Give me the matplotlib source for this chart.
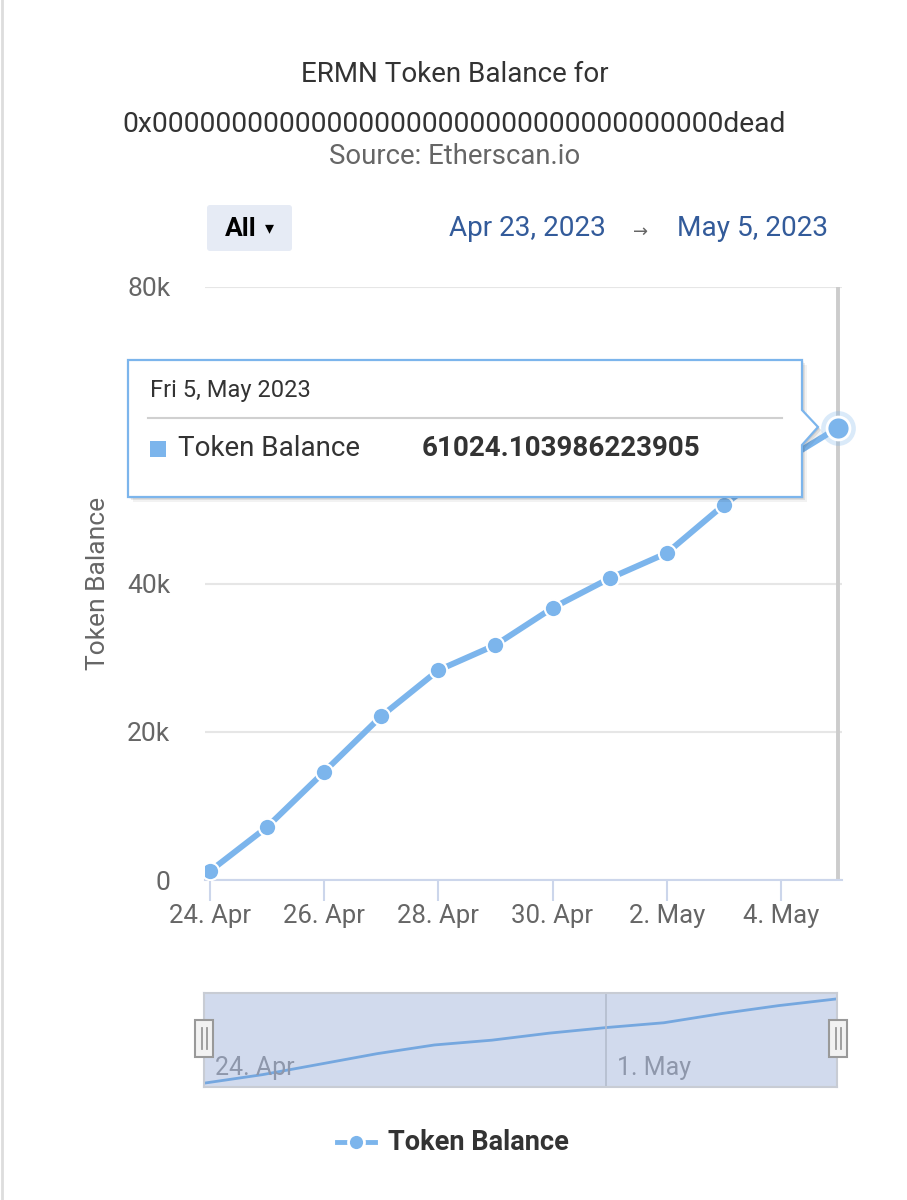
import datetime as dt
import matplotlib
matplotlib.use("Agg")
import matplotlib.pyplot as plt
import matplotlib.dates as mdates
from matplotlib.patches import Polygon, Rectangle, FancyBboxPatch
from matplotlib.ticker import FuncFormatter

plt.rcParams['font.family'] = ['Roboto', 'DejaVu Sans']

# data
dates = [dt.datetime(2023, 4, 24) + dt.timedelta(days=i) for i in range(12)]
balance = [1200, 7150, 14600, 22100, 28300, 31700, 36700, 40700, 44100, 50600, 56300, 61024.103986223905]
yticks = [0, 20000, 40000, 80000]
title1 = "ERMN Token Balance for"
title2 = "0x000000000000000000000000000000000000dead"
subtitle = "Source: Etherscan.io"
range_from = "Apr 23, 2023"
range_to = "May 5, 2023"
tip_date = "Fri 5, May 2023"
series_name = "Token Balance"

W, H = 907, 1200
LINE = '#7cb5ec'
fig = plt.figure(figsize=(W / 100, H / 100), dpi=100)


def box(l, t, r, b):
    return [l / W, 1 - b / H, (r - l) / W, (b - t) / H]


# main chart
ax = fig.add_axes(box(205, 287, 842, 880), zorder=1)
pad_l, pad_r = dt.timedelta(hours=2.1), dt.timedelta(hours=1.7)
ax.set_xlim(dates[0] - pad_l, dates[-1] + pad_r)
ax.set_ylim(0, 80000)
ax.plot(dates, balance, color=LINE, lw=4.3, marker='o', ms=12.5,
        mec='white', mew=1.5, solid_capstyle='round', zorder=3)
ax.axvline(dates[-1], color='#cccccc', lw=2.8, zorder=2)
for s in ['top', 'right', 'left']:
    ax.spines[s].set_visible(False)
ax.spines['bottom'].set_color('#ccd6eb')
ax.spines['bottom'].set_linewidth(1.5)
ax.set_yticks(yticks)
ax.yaxis.set_major_formatter(FuncFormatter(lambda v, p: '0' if v == 0 else '%dk' % (v / 1000)))
ax.grid(axis='y', color='#e6e6e6', lw=1.5)
ax.set_axisbelow(True)
ax.set_xticks(dates[::2])
ax.xaxis.set_major_formatter(mdates.DateFormatter('%-d. %b'))
ax.tick_params(axis='x', length=15, width=1.5, color='#ccd6eb', labelsize=18.5,
               labelcolor='#666666', pad=2)
ax.tick_params(axis='y', length=0, labelsize=19, labelcolor='#666666', pad=25)
ax.set_ylabel(series_name, fontsize=19, color='#666666', labelpad=12)
ax.patch.set_alpha(0)

# navigator
nav = fig.add_axes(box(204, 993, 837, 1087), zorder=1)
nav.set_facecolor('#d1daed')
nav.set_xlim(dates[0] - dt.timedelta(hours=0.5), dates[-1] + dt.timedelta(hours=0.5))
nav.set_ylim(-1650, 65300)
nav.plot(dates, balance, color='#75a7df', lw=2)
nav.axvline(dates[7], color='#b4bccd', lw=1.2)
for s in nav.spines.values():
    s.set_color('#c8ccd4')
    s.set_linewidth(1.5)
nav.set_xticks([])
nav.set_yticks([])
for d in [dates[0], dates[7]]:
    nav.text(d + dt.timedelta(hours=4.3), 0.2, d.strftime('%-d. %b'),
             transform=nav.get_xaxis_transform(), fontsize=18,
             color='#8e97ab', ha='left', va='center')

# overlay in pixel coordinates for titles, tooltip, legend
ov = fig.add_axes([0, 0, 1, 1], zorder=5)
ov.set_xlim(0, W)
ov.set_ylim(H, 0)
ov.axis('off')
ov.patch.set_alpha(0)

ov.plot([1.5, 1.5], [0, H], color='#dddddd', lw=2)
ov.text(W / 2 + 1, 75, title1, fontsize=20, color='#333333', ha='center', va='center')
ov.text(W / 2 + 1, 125, title2, fontsize=20.3, color='#333333', ha='center', va='center')
ov.text(W / 2 + 1, 157, subtitle, fontsize=19.8, color='#666666', ha='center', va='center')

ov.add_patch(FancyBboxPatch((207, 205), 85, 46, boxstyle='round,pad=0,rounding_size=3',
                            fc='#e6ebf5', ec='none'))
ov.text(225, 229, 'All', fontsize=19, fontweight='bold', color='#000000', va='center')
ov.text(265, 228, '▾', fontsize=13, color='#000000', va='center', family=['DejaVu Sans'])
ov.text(449, 229, range_from, fontsize=20.2, color='#335b9a', va='center')
ov.text(641, 232, '→', fontsize=13, color='#666666', va='center', ha='center',
        family=['DejaVu Sans'])
ov.text(677, 229, range_to, fontsize=20.2, color='#335b9a', va='center')

# navigator handles
for hx in (204, 838):
    ov.add_patch(Rectangle((hx - 9, 1020), 18, 37, fc='#f2f2f2', ec='#999999', lw=1.5))
    ov.plot([hx - 2.5, hx - 2.5], [1028, 1049], color='#999999', lw=1.3)
    ov.plot([hx + 2.5, hx + 2.5], [1028, 1049], color='#999999', lw=1.3)

# tooltip
tip = [(128, 360), (802, 360), (802, 410), (818, 427), (802, 445), (802, 497), (128, 497)]
for off, a in [(5, 0.05), (3, 0.08), (1.5, 0.1)]:
    ov.add_patch(Polygon([(x + off, y + off) for x, y in tip], closed=True,
                         fc='black', ec='none', alpha=a))
ov.add_patch(Polygon(tip, closed=True, fc='white', ec=LINE, lw=1.6))
ov.text(150, 391, tip_date, fontsize=17, color='#333333', va='center')
ov.plot([148, 782], [418, 418], color='#d0d0d0', lw=1.5)
ov.add_patch(Rectangle((150, 441), 16, 16, fc=LINE, ec='none'))
ov.text(178, 449, series_name, fontsize=20, color='#333333', va='center')
ov.text(422, 449, '%.12f' % balance[-1], fontsize=20, fontweight='bold',
        color='#333333', va='center')

# legend
ov.plot([337, 375], [1142, 1142], color=LINE, lw=3.5)
ov.plot([356], [1142], 'o', color=LINE, ms=11.5, mec='white', mew=2)
ov.text(388, 1143, series_name, fontsize=19.5, fontweight='bold', color='#333333', va='center')

# hovered point on top of everything
top = fig.add_axes(ax.get_position(), zorder=10)
top.set_xlim(ax.get_xlim())
top.set_ylim(ax.get_ylim())
top.axis('off')
top.patch.set_alpha(0)
top.plot([dates[-1]], [balance[-1]], 'o', ms=25, color=LINE, alpha=0.28, mec='none', clip_on=False)
top.plot([dates[-1]], [balance[-1]], 'o', ms=16.5, color=LINE, mec='white', mew=2, clip_on=False)

fig.savefig('out.png', dpi=100)
